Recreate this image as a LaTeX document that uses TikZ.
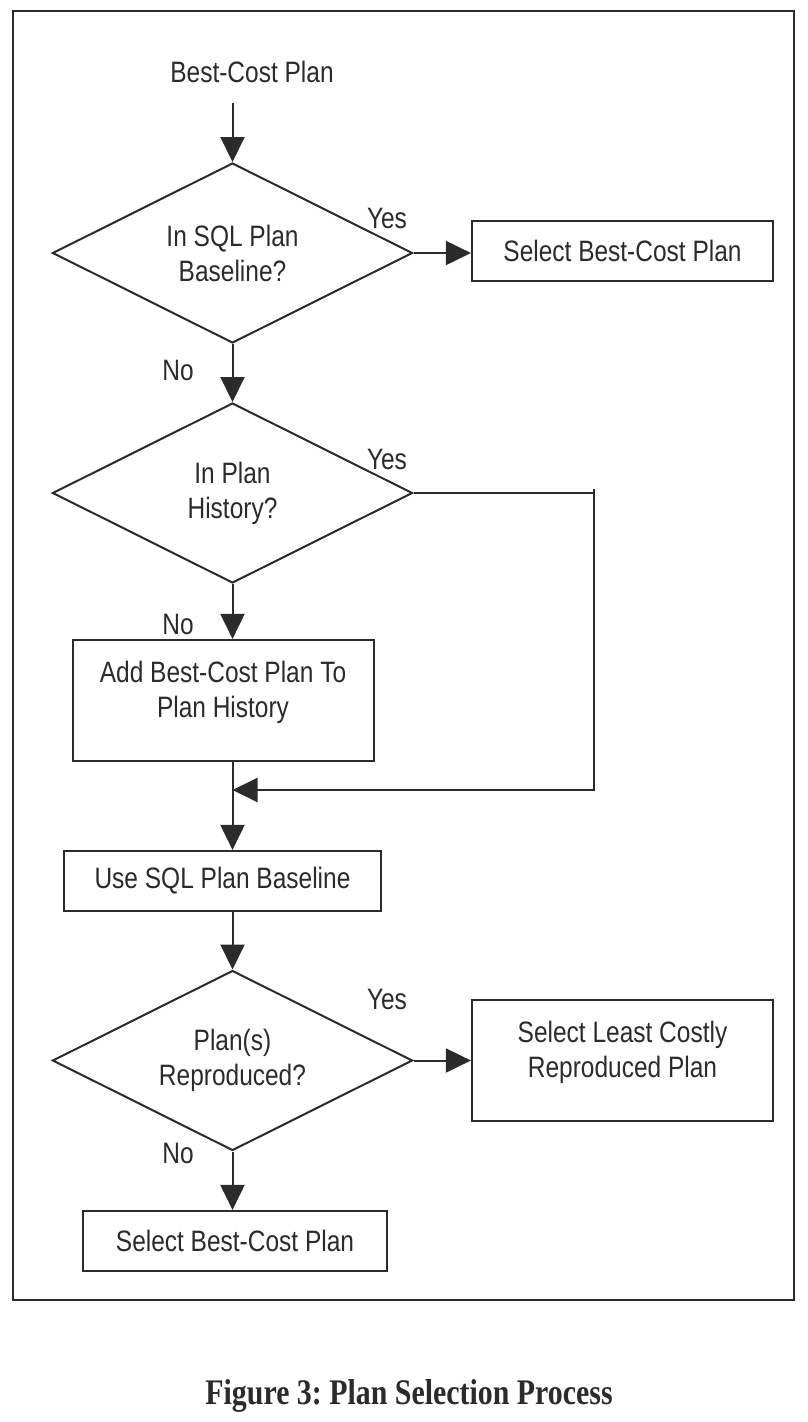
\documentclass[tikz,border=0pt]{standalone}
\usepackage{fontspec}
\setmainfont{Liberation Sans}[FakeStretch=0.83]
\newfontfamily\capfont{Liberation Serif}[FakeStretch=0.83]
\usetikzlibrary{arrows.meta,shapes.geometric}
\definecolor{ink}{HTML}{2B2B2B}
\frenchspacing
\begin{document}
\begin{tikzpicture}[x=1pt,y=-1pt,
  line width=2pt, draw=ink,
  plain/.style={text=ink, align=center, inner sep=0pt, font=\fontsize{29.5}{35}\selectfont},
  lab/.style={plain},
  dia/.style={plain, shape=diamond, aspect=2, draw=ink, line width=2pt, minimum width=360pt, minimum height=180pt},
  box/.style={plain, shape=rectangle, draw=ink, line width=2.2pt},
  capt/.style={text=ink, inner sep=0pt, font=\capfont\bfseries\fontsize{36}{40}\selectfont},
  flow/.style={draw=ink, line width=2pt, -{Triangle[length=25pt,width=24pt]}},
  wire/.style={draw=ink, line width=2pt}
]
\useasboundingbox (0,0) rectangle (808,1422);
\fill[white] (0,0) rectangle (808,1422);
\draw[ink, line width=2pt] (12.5,10.5) rectangle (794,1300);

% nodes
\node[plain] (start) at (252,72) {Best-Cost Plan};
\coordinate (s) at (232.5,103);
\node[dia] (d1) at (232.5,253) {In SQL Plan\\Baseline?};
\node[box, minimum width=301pt, minimum height=60pt] (b1) at (622.5,251) {Select Best-Cost Plan};
\node[lab] (y1) at (387,218) {Yes};
\node[lab] (n1) at (178,370) {No};

\node[dia] (d2) at (232.5,493) {In Plan\\History?};
\node[lab] (y2) at (387,459) {Yes};
\node[lab] (n2) at (178,624) {No};

\node[box, minimum width=301pt, minimum height=121pt] (b2) at (223.5,700.5) {};
\node[plain] (b2t) at (223,692) {Add Best-Cost Plan To\\Plan History};

\coordinate (r) at (593.5,493);
\coordinate (rt) at (593.5,489);
\coordinate (j) at (232.5,790);

\node[box, minimum width=317pt, minimum height=60pt] (b3) at (222.5,881) {Use SQL Plan Baseline};

\node[dia] (d3) at (232.5,1060.5) {Plan(s)\\Reproduced?};
\node[lab] (y3) at (387,999) {Yes};
\node[lab] (n3) at (178,1153) {No};
\node[box, minimum width=301pt, minimum height=121pt] (b4) at (622.5,1060.5) {};
\node[plain] (b4t) at (622.5,1052) {Select Least Costly\\Reproduced Plan};

\node[box, minimum width=304pt, minimum height=60pt] (b5) at (235,1241) {Select Best-Cost Plan};

\node[capt] (cap) at (409,1396) {Figure 3: Plan Selection Process};

% connectors
\draw[flow] (s) -- (d1.north);
\draw[flow] (d1.east) -- (d1.east -| b1.west);
\draw[flow] (d1.south) -- (d2.north);
\draw[flow] (d2.south) -- (d2.south |- b2.north);
\draw[wire] (d2.east) -- (r);
\draw[flow] (rt) |- (j);
\draw[flow] (b2.south -| j) -- (j |- b3.north);
\draw[flow] (b3.south -| d3.north) -- (d3.north);
\draw[flow] (d3.east) -- (d3.east -| b4.west);
\draw[flow] (d3.south) -- (d3.south |- b5.north);
\end{tikzpicture}
\end{document}
